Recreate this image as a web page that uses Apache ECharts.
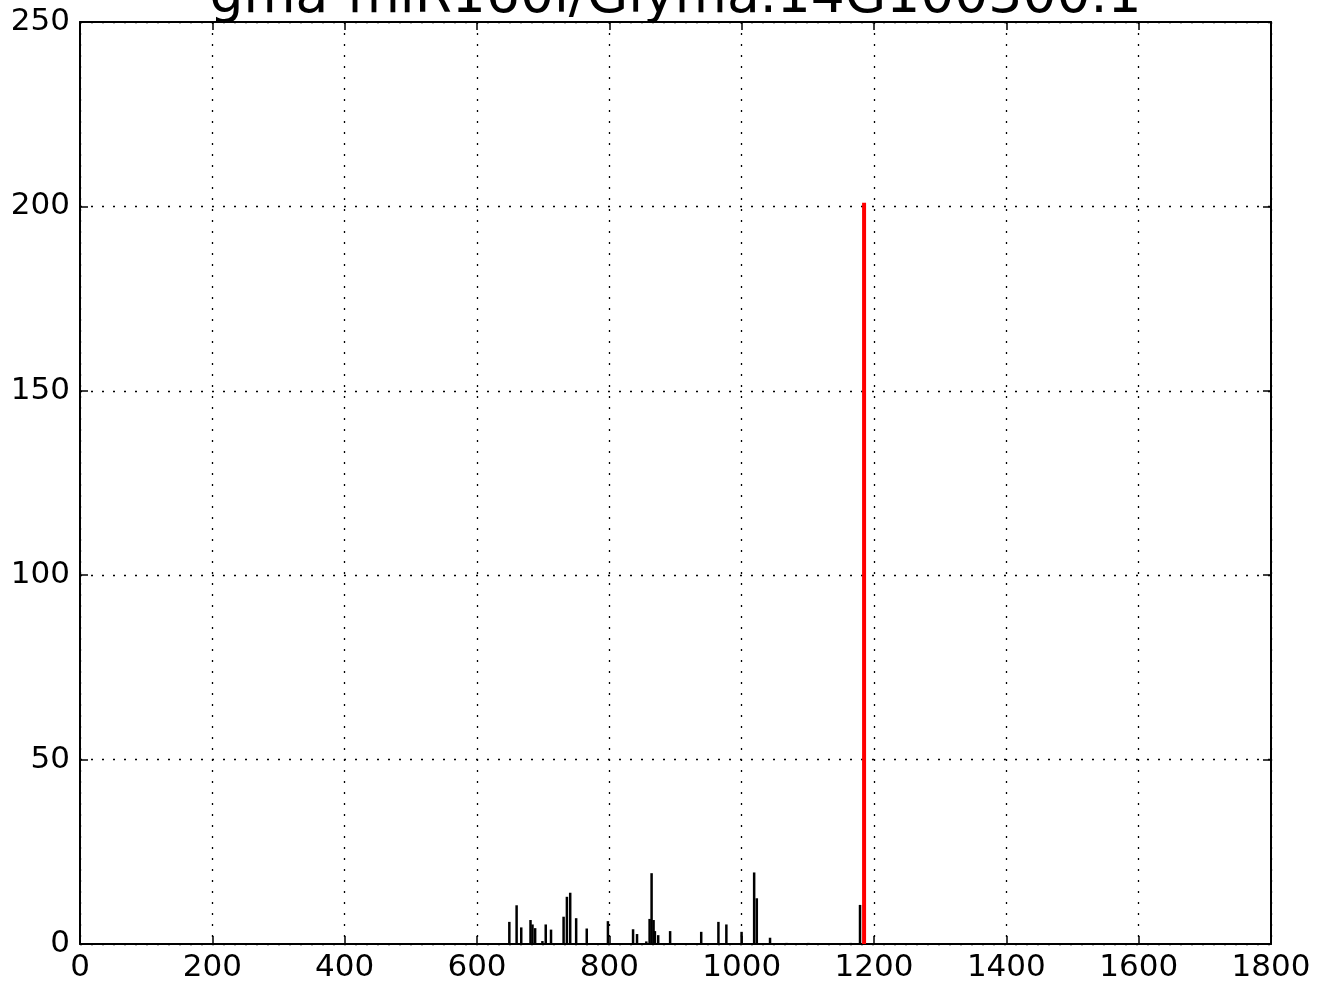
<!DOCTYPE html>
<html>
<head>
<meta charset="utf-8">
<script src="https://cdn.jsdelivr.net/npm/echarts@6/dist/echarts.min.js"></script>
<style>
  html, body { margin: 0; padding: 0; background: #fff; }
  #main { width: 1318px; height: 985px; }
</style>
</head>
<body>
<div id="main"></div>
<script>
// positions along the transcript and read counts (black bars)
var positions = [650, 661, 668, 682, 685, 689, 700, 705, 713, 732, 737, 742, 751, 767, 799,
                 837, 843, 857, 862, 865, 868, 870, 875, 893, 940, 966, 978, 1001, 1020, 1024,
                 1044, 1069, 1102, 1166, 1180];
var counts = [6, 10.5, 4.5, 6.5, 5.3, 4.3, 0.8, 5.3, 3.9, 7.4, 12.8, 13.9, 7, 4.2, 6.2,
              4, 2.7, 0.7, 6.8, 19.2, 6.5, 3.5, 2.4, 3.5, 3.3, 6, 5.3, 3.3, 19.4, 12.4,
              1.7, 0.3, 0.3, 0.3, 10.6];
// cleavage site (red bar)
var sitePos = [1185];
var siteCount = [201];

var titleText = 'gma-miR160l/Glyma.14G100300.1';

var font = 'DejaVu Sans';
var myChart = echarts.init(document.getElementById('main'));

function pairs(xs, ys) {
    return xs.map(function (x, i) { return [x, ys[i]]; });
}

var gridLine = { show: true, lineStyle: { color: '#000', width: 1.3, type: [2, 9] } };
var boxLine = { show: true, onZero: false, lineStyle: { color: '#000', width: 2 } };
var tickIn = { show: true, inside: true, length: 8, lineStyle: { color: '#000', width: 1.5 } };

var option = {
    animation: false,
    // title centred over the plot area, its top runs off the canvas
    graphic: [{
        type: 'text',
        x: 675.5,
        y: -29,
        style: {
            text: titleText,
            align: 'center',
            verticalAlign: 'top',
            fontFamily: font,
            fontSize: 53.5,
            fill: '#000'
        }
    }],
    grid: { left: 80, right: 47, top: 22, bottom: 41, containLabel: false },
    xAxis: [{
        type: 'value', min: 0, max: 1800, interval: 200, position: 'bottom',
        axisLine: boxLine, axisTick: tickIn, splitLine: gridLine,
        axisLabel: { color: '#000', fontFamily: font, fontSize: 31, margin: 8,
                     formatter: function (v) { return String(v); } }
    }, {
        type: 'value', min: 0, max: 1800, interval: 200, position: 'top',
        axisLine: boxLine, axisTick: tickIn, splitLine: { show: false },
        axisLabel: { show: false }
    }],
    yAxis: [{
        type: 'value', min: 0, max: 250, interval: 50, position: 'left',
        axisLine: boxLine, axisTick: tickIn, splitLine: gridLine,
        axisLabel: { color: '#000', fontFamily: font, fontSize: 31, margin: 10 }
    }, {
        type: 'value', min: 0, max: 250, interval: 50, position: 'right',
        axisLine: boxLine, axisTick: tickIn, splitLine: { show: false },
        axisLabel: { show: false }
    }],
    series: [{
        type: 'bar',
        data: pairs(positions, counts),
        barWidth: 2.5,
        barGap: '-100%',
        itemStyle: { color: '#000' }
    }, {
        type: 'bar',
        data: pairs(sitePos, siteCount),
        barWidth: 4,
        barGap: '-100%',
        itemStyle: { color: '#ff0000' }
    }]
};
myChart.setOption(option);
</script>
</body>
</html>
